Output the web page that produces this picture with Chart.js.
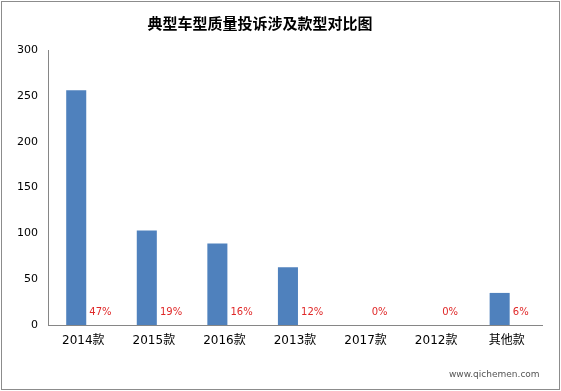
<!DOCTYPE html>
<html>
<head>
<meta charset="utf-8">
<script src="https://cdn.jsdelivr.net/npm/chart.js@4/dist/chart.umd.min.js"></script>
<style>
  html, body { margin: 0; padding: 0; background: #fff; }
  #wrap { width: 561px; height: 391px; }
</style>
</head>
<body>
<div id="wrap"><canvas id="myBarChart" width="561" height="391"></canvas></div>
<script>
var categories = ["2014款", "2015款", "2016款", "2013款", "2017款", "2012款", "其他款"];
var counts = [256, 103, 89, 63, 0, 0, 35];
var percents = [47, 19, 16, 12, 0, 0, 6];
var yTicks = [0, 50, 100, 150, 200, 250, 300];

var titleText = "典型车型质量投诉涉及款型对比图";

// title, frame, percent labels and watermark drawn by hand
var decor = {
    id: "decor",
    afterDraw: function (chart) {
        var c = chart.ctx;
        c.save();
        c.strokeStyle = "#8c8c8c";
        c.lineWidth = 1;
        c.strokeRect(1.5, 1.5, chart.width - 3, chart.height - 3);

        c.fillStyle = "#000";
        c.font = "bold 15px 'Noto Sans CJK SC'";
        c.textAlign = "center";
        c.textBaseline = "middle";
        c.fillText(titleText, 260, 23);

        var meta = chart.getDatasetMeta(1);
        var yBase = chart.scales.y.getPixelForValue(0);
        c.fillStyle = "#e02828";
        c.font = "10px 'DejaVu Sans'";
        c.textAlign = "left";
        meta.data.forEach(function (bar, i) {
            c.fillText(percents[i] + "%", bar.x - 4, yBase - 13);
        });

        c.fillStyle = "#555";
        c.font = "9px 'DejaVu Sans'";
        c.textAlign = "left";
        c.fillText("www.qichemen.com", 449, 375);
        c.restore();
    }
};

var ctx = document.getElementById("myBarChart");
var myBarChart = new Chart(ctx, {
    type: "bar",
    data: {
        labels: categories,
        datasets: [
            {
                data: counts,
                backgroundColor: "#4f81bd",
                barPercentage: 1.42,
                categoryPercentage: 0.4
            },
            {
                data: percents.map(function (p) { return p / 100; }),
                backgroundColor: "rgba(0,0,0,0)",
                barPercentage: 1,
                categoryPercentage: 0.57
            }
        ]
    },
    options: {
        responsive: false,
        animation: false,
        layout: { padding: { top: 50, left: 0, right: 19, bottom: 0 } },
        plugins: {
            legend: { display: false },
            title: { display: false },
            tooltip: { enabled: false }
        },
        scales: {
            x: {
                grid: { display: false, drawTicks: false },
                border: { color: "#868686" },
                ticks: {
                    color: "#000",
                    padding: 9,
                    maxRotation: 0,
                    font: { size: 12, family: "'DejaVu Sans', 'Noto Sans CJK SC'" }
                },
                afterFit: function (scale) { scale.height = 66; }
            },
            y: {
                min: 0,
                max: 300,
                afterBuildTicks: function (scale) {
                    scale.ticks = yTicks.map(function (v) { return { value: v }; });
                },
                grid: { display: false, drawTicks: false },
                border: { color: "#868686" },
                ticks: {
                    color: "#000",
                    padding: 10,
                    font: { size: 11, family: "'DejaVu Sans'" }
                },
                afterFit: function (scale) { scale.width = 48; }
            }
        }
    },
    plugins: [decor]
});
</script>
</body>
</html>
